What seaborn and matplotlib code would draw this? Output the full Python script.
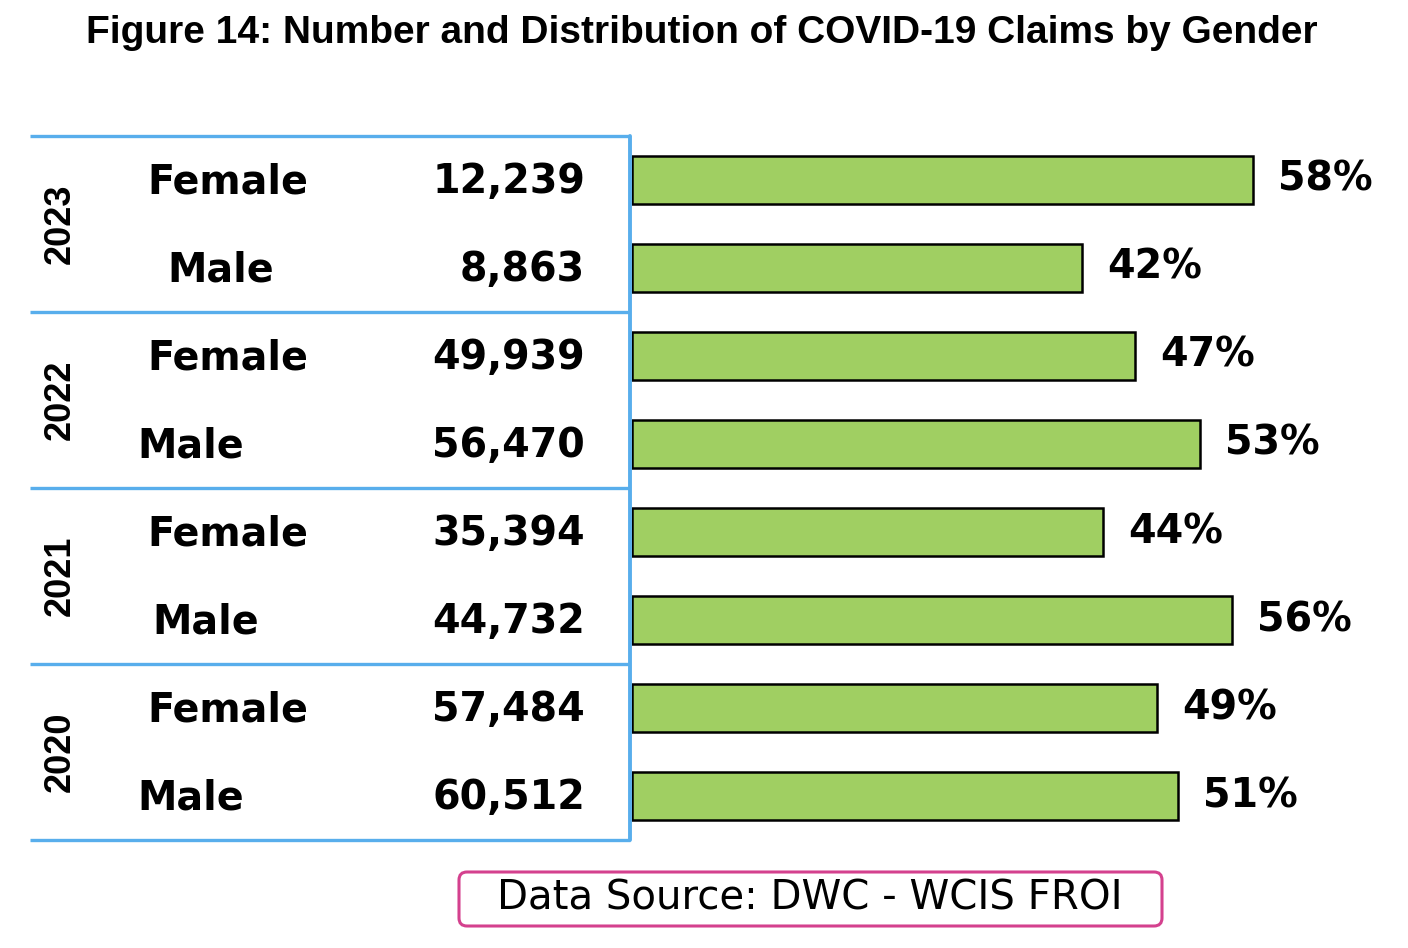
import numpy as np
import pandas as pd
import matplotlib
matplotlib.use('Agg')
import matplotlib.pyplot as plt
import matplotlib.transforms as mtransforms
from matplotlib.lines import Line2D
from matplotlib.patches import FancyBboxPatch
import seaborn as sns

# Data
years = ['2023', '2022', '2021', '2020']
genders = ['Female', 'Male']
claims = [12239, 8863, 49939, 56470, 35394, 44732, 57484, 60512]
shares = [58, 42, 47, 53, 44, 56, 49, 51]

df = pd.DataFrame({
    'year': np.repeat(years, 2),
    'gender': genders * len(years),
    'claims': claims,
    'share': shares,
})
df['row'] = df['year'] + ' ' + df['gender']

sns.set_style('white')
plt.rcParams['text.color'] = 'black'

W, H = 1408, 948
fig = plt.figure(figsize=(W / 100, H / 100), dpi=100)
ax = fig.add_axes([632 / W, 1 - 840 / H, (W - 632) / W, 704 / H])

sns.barplot(data=df, x='share', y='row', orient='h', color='#a0cf62',
            saturation=1, edgecolor='black', linewidth=1.8, width=0.55,
            errorbar=None, ax=ax)
ax.set_xlim(0, (W - 632) / 10.71)
ax.set_ylim(len(df) - 0.5, -0.5)
ax.bar_label(ax.containers[0], labels=[f'{s}%' for s in df['share']],
             padding=18, fontsize=28.5, fontweight='bold', family='DejaVu Sans',
             color='black')
ax.axis('off')

# table on the left
trans = mtransforms.blended_transform_factory(fig.transFigure, ax.transData)
label_x = [147, 167, 147, 137, 147, 152, 147, 137]
for i, r in df.iterrows():
    fig.text(label_x[i] / W, i + 0.15, r['gender'], transform=trans,
             ha='left', va='baseline', fontsize=28.5, fontweight='bold',
             family='DejaVu Sans', color='black')
    fig.text(585 / W, i + 0.15, f"{r['claims']:,}", transform=trans,
             ha='right', va='baseline', fontsize=28.5, fontweight='bold',
             family='DejaVu Sans', color='black')

for k, y in enumerate(years):
    fig.text(60 / W, 2 * k + 0.5, y, transform=trans, rotation=90,
             ha='center', va='center', fontsize=26, fontweight='bold',
             family='Liberation Sans', color='black')

blue = '#58aeec'
for yy in np.arange(-0.5, len(df), 2):
    fig.add_artist(Line2D([30 / W, 630 / W], [yy, yy], transform=trans,
                          color=blue, lw=2.4, solid_capstyle='butt'))
fig.add_artist(Line2D([630 / W, 630 / W], [-0.5, len(df) - 0.5],
                      transform=trans, color=blue, lw=2.8))

fig.text(702 / W, 1 - 33 / H,
         'Figure 14: Number and Distribution of COVID-19 Claims by Gender',
         ha='center', va='center', fontsize=28, fontweight='bold',
         family='Liberation Sans', color='black')

# source box
box = FancyBboxPatch((4.59, 0.22), 7.03, 0.54,
                     boxstyle='round,pad=0,rounding_size=0.08',
                     transform=fig.dpi_scale_trans, fc='white',
                     ec='#d4418e', lw=2.2)
fig.add_artist(box)
fig.text(810 / W, 1 - 899 / H, 'Data Source: DWC - WCIS FROI',
         ha='center', va='center', fontsize=29, family='DejaVu Sans',
         color='black')

fig.savefig('out.png', dpi=100, facecolor='white')
